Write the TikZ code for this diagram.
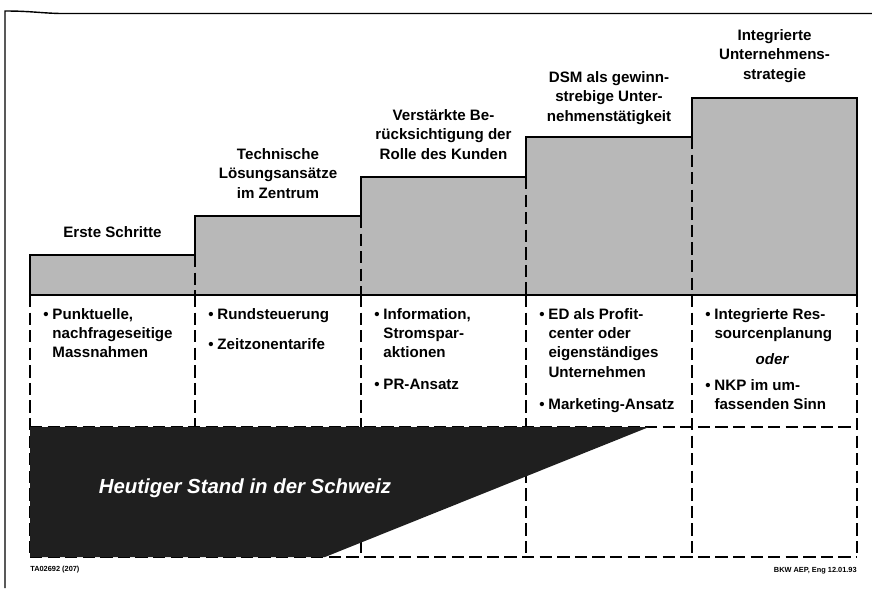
\documentclass[tikz,border=0pt]{standalone}
\usepackage{fontspec}
\setmainfont{Liberation Sans}
\newcommand{\hfont}{\fontsize{8.6}{11.05}\selectfont\bfseries}
\newcommand{\bpt}[1]{\makebox[5.2pt][l]{\textbullet}\begin{tabular}[t]{@{}l@{}}#1\end{tabular}}

\begin{document}
\begin{tikzpicture}[scale=0.2]
			\tikzstyle{every node}+=[inner sep=0pt]
			\tikzstyle{frame}=[black, line width=0.8pt]
			\tikzstyle{stair}=[black, line width=1.6pt, line join=miter]
			\tikzstyle{grid}=[black, line width=0.8pt, dash pattern=on 7pt off 3pt]
			\tikzstyle{head}=[font=\hfont, align=center, anchor=base]
			\tikzstyle{item}=[font=\hfont, anchor=base west]
			\useasboundingbox (0,0) rectangle (87.2,-58.8);
			% outer frame (top and left only)
			\draw [frame] (0.5,-58.8) -- (0.5,-1.1) .. controls (3,-1.1) and (4,-1.3) .. (6,-1.35) -- (87.2,-1.35);
			% staircase
			\fill [black!28] (3.0,-29.5) -- (3.0,-25.5) -- (19.5,-25.5) -- (19.5,-21.6) -- (36.1,-21.6) -- (36.1,-17.7) -- (52.6,-17.7) -- (52.6,-13.7) -- (69.2,-13.7) -- (69.2,-9.8) -- (85.7,-9.8) -- (85.7,-29.5) -- cycle;
			\draw [grid] (19.5,-25.5) -- (19.5,-29.5);
			\draw [grid] (36.1,-21.6) -- (36.1,-29.5);
			\draw [grid] (52.6,-17.7) -- (52.6,-29.5);
			\draw [grid] (69.2,-13.7) -- (69.2,-29.5);
			% lower grid
			\draw [grid] (3.0,-29.5) -- (3.0,-55.7);
			\foreach \x in {19.5,36.1,52.6,69.2,85.7}
				\draw [grid] (\x,-29.5) -- (\x,-55.7);
			\draw [grid] (3.0,-42.7) -- (85.7,-42.7);
			\draw [grid] (3.0,-55.7) -- (85.7,-55.7);
			% current state in Switzerland
			\fill [black!88] (3.0,-42.7) -- (64.9,-42.7) -- (32.5,-55.7) -- (3.0,-55.7) -- cycle;
			\draw (24.5,-49.3) node [anchor=base, text=white, font=\fontsize{11.6}{13}\selectfont\bfseries\itshape] {Heutiger Stand in der Schweiz};
			\draw [stair] (3.0,-29.5) -- (3.0,-25.5) -- (19.5,-25.5) -- (19.5,-21.6) -- (36.1,-21.6) -- (36.1,-17.7) -- (52.6,-17.7) -- (52.6,-13.7) -- (69.2,-13.7) -- (69.2,-9.8) -- (85.7,-9.8) -- (85.7,-29.5) -- cycle;
			% step titles
			\draw (11.25,-23.7) node [head] {Erste Schritte};
			\draw (27.8,-19.8) node [head] {Technische\\Lösungsansätze\\im Zentrum};
			\draw (44.35,-15.9) node [head] {Verstärkte Be-\\rücksichtigung der\\Rolle des Kunden};
			\draw (60.9,-12.1) node [head] {DSM als gewinn-\\strebige Unter-\\nehmenstätigkeit};
			\draw (77.45,-7.9) node [head] {Integrierte\\Unternehmens-\\strategie};
			% measures
			\draw (4.3,-31.9) node [item] {\bpt{Punktuelle,\\nachfrageseitige\\Massnahmen}};
			\draw (20.8,-31.9) node [item] {\bpt{Rundsteuerung}};
			\draw (20.8,-34.9) node [item] {\bpt{Zeitzonentarife}};
			\draw (37.4,-31.9) node [item] {\bpt{Information,\\Stromspar-\\aktionen}};
			\draw (37.4,-38.9) node [item] {\bpt{PR-Ansatz}};
			\draw (53.9,-31.9) node [item] {\bpt{ED als Profit-\\center oder\\eigenständiges\\Unternehmen}};
			\draw (53.9,-40.9) node [item] {\bpt{Marketing-Ansatz}};
			\draw (70.5,-31.9) node [item] {\bpt{Integrierte Res-\\sourcenplanung}};
			\draw (77.2,-36.4) node [anchor=base, font=\hfont\itshape] {oder};
			\draw (70.5,-39.0) node [item] {\bpt{NKP im um-\\fassenden Sinn}};
			% footer
			\draw (3.0,-57.1) node [anchor=base west, font=\fontsize{4.2}{5}\selectfont\bfseries] {TA02692 (207)};
			\draw (85.7,-57.2) node [anchor=base east, font=\fontsize{4.2}{5}\selectfont\bfseries] {BKW AEP, Eng 12.01.93};
		\end{tikzpicture}
\end{document}
